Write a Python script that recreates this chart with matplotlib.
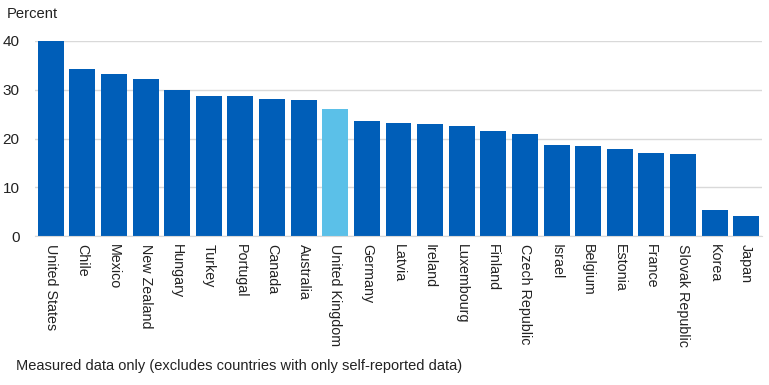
import matplotlib.pyplot as plt

plt.rcParams['font.family'] = ['Liberation Sans', 'DejaVu Sans']

countries = ['United States', 'Chile', 'Mexico', 'New Zealand', 'Hungary', 'Turkey',
             'Portugal', 'Canada', 'Australia', 'United Kingdom', 'Germany', 'Latvia',
             'Ireland', 'Luxembourg', 'Finland', 'Czech Republic', 'Israel', 'Belgium',
             'Estonia', 'France', 'Slovak Republic', 'Korea', 'Japan']
values = [40.0, 34.3, 33.2, 32.2, 29.9, 28.7, 28.7, 28.1, 27.9, 26.0, 23.6, 23.2,
          23.0, 22.6, 21.5, 20.9, 18.7, 18.5, 17.8, 17.0, 16.8, 5.3, 4.1]
highlight = 'United Kingdom'

dark = '#005EB8'
light = '#5BC0E8'
colors = [light if c == highlight else dark for c in countries]

fig = plt.figure(figsize=(7.69, 3.85), dpi=100)
ax = fig.add_axes([35 / 769, 1 - 236 / 385, 727 / 769, 195 / 385])

x = range(len(countries))
ax.bar(x, values, width=0.82, color=colors, zorder=3)

ax.set_xlim(-0.5, len(countries) - 0.5)
ax.set_ylim(0, 40)
ax.set_yticks([0, 10, 20, 30, 40])
ax.yaxis.grid(True, color='#d9d9d9', linewidth=1, zorder=0)
ax.set_xticks(list(x))
ax.set_xticklabels(countries, rotation=-90, va='top', ha='center', fontsize=10.3)
ax.tick_params(axis='x', length=0, pad=6, colors='#222222')
ax.tick_params(axis='y', length=0, pad=11, labelsize=11, colors='#222222')

for s in ['top', 'right', 'left']:
    ax.spines[s].set_visible(False)
ax.spines['bottom'].set_color('#d9d9d9')
ax.spines['bottom'].set_zorder(4)

fig.text(7 / 769, 1 - 14 / 385, 'Percent', fontsize=10.6, va='center', ha='left', color='#222222')
fig.text(16 / 769, 1 - 366 / 385, 'Measured data only (excludes countries with only self-reported data)',
         fontsize=10.5, va='center', ha='left', color='#222222')

fig.savefig('out.png', dpi=100)
